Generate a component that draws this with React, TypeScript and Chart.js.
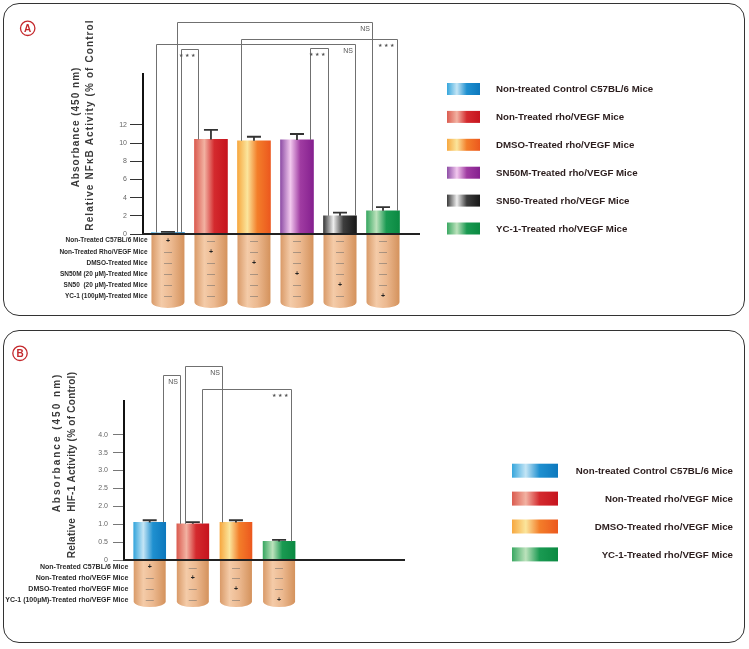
import React, { useEffect, useRef } from 'react';
import { Chart, registerables } from 'chart.js';

Chart.register(...registerables);

const FONT = "'Liberation Sans', Arial, Helvetica, sans-serif";

// ---------------- Panel A data ----------------
const groupsA = [
  'Non-treated Control C57BL/6 Mice',
  'Non-Treated rho/VEGF Mice',
  'DMSO-Treated rho/VEGF Mice',
  'SN50M-Treated rho/VEGF Mice',
  'SN50-Treated rho/VEGF Mice',
  'YC-1-Treated rho/VEGF Mice',
];
const valuesA = [0.15, 10.4, 10.25, 10.35, 2.0, 2.55];
const errorsA = [0.08, 1.05, 0.45, 0.65, 0.35, 0.4];
const yTicksA = [0, 2, 4, 6, 8, 10, 12];
const yTickLabelsA = ['0', '2', '4', '6', '8', '10', '12'];
const rowLabelsA = [
  'Non-Treated C57BL/6 Mice',
  'Non-Treated Rho/VEGF Mice',
  'DMSO-Treated Mice',
  'SN50M (20 µM)-Treated Mice',
  'SN50  (20 µM)-Treated Mice',
  'YC-1 (100µM)-Treated Mice',
];
const signsA = [
  ['+', '—', '—', '—', '—', '—'],
  ['—', '+', '—', '—', '—', '—'],
  ['—', '—', '+', '—', '—', '—'],
  ['—', '—', '—', '+', '—', '—'],
  ['—', '—', '—', '—', '+', '—'],
  ['—', '—', '—', '—', '—', '+'],
];
const bracketsA = [
  { from: 0, fromOff: 0.28, to: 5, toOff: -0.32, level: 23.3, label: 'NS' },
  { from: 0, fromOff: -0.36, to: 4, toOff: 0.46, level: 20.9, label: 'NS' },
  { from: 2, fromOff: -0.39, to: 5, toOff: 0.43, level: 21.4, label: '★★★' },
  { from: 0, fromOff: 0.4, to: 1, toOff: -0.38, level: 20.4, label: '★★★' },
  { from: 3, fromOff: 0.39, to: 4, toOff: -0.36, level: 20.45, label: '★★★' },
];
const titlesA = ['Absorbance (450 nm)', 'Relative NFκB Activity (% of Control'];

// ---------------- Panel B data ----------------
const groupsB = [
  'Non-treated Control C57BL/6 Mice',
  'Non-Treated rho/VEGF Mice',
  'DMSO-Treated rho/VEGF Mice',
  'YC-1-Treated rho/VEGF Mice',
];
const valuesB = [1.05, 1.01, 1.05, 0.52];
const errorsB = [0.06, 0.05, 0.06, 0.04];
const yTicksB = [0, 0.5, 1, 1.5, 2, 2.5, 3, 3.5];
const yTickLabelsB = ['0', '0.5', '1.0', '2.0', '2.5', '3.0', '3.5', '4.0'];
const rowLabelsB = [
  'Non-Treated C57BL/6 Mice',
  'Non-Treated rho/VEGF Mice',
  'DMSO-Treated rho/VEGF Mice',
  'YC-1 (100µM)-Treated rho/VEGF Mice',
];
const signsB = [
  ['+', '—', '—', '—'],
  ['—', '+', '—', '—'],
  ['—', '—', '+', '—'],
  ['—', '—', '—', '+'],
];
const bracketsB = [
  { from: 0, fromOff: 0.4, to: 1, toOff: -0.4, level: 5.18, label: 'NS' },
  { from: 1, fromOff: -0.24, to: 2, toOff: -0.43, level: 5.41, label: 'NS' },
  { from: 1, fromOff: 0.3, to: 3, toOff: 0.375, level: 4.78, label: '★★★' },
];
const titlesB = ['Absorbance (450 nm)', 'Relative  HIF-1 Activity (% of Control)'];

// ---------------- styles ----------------
const BLUE = ['#36a6dc', '#c4e5f5', '#1f90d0', '#0d78bd'];
const RED = ['#db5c50', '#f2b2a2', '#d42a2e', '#c6141e'];
const ORANGE = ['#f7a840', '#fbe59c', '#f37e2a', '#ec581e'];
const PURPLE = ['#8e4ea6', '#f2c8ee', '#a03ca2', '#85208f'];
const BLACK = ['#3a3a3a', '#eeeeee', '#3e3e3e', '#181818'];
const GREEN = ['#3aa862', '#bce2bc', '#1a9a52', '#0b8a42'];
const TUBE = ['#d99a68', '#f4cba8', '#ecb990', '#d4925c'];

const lookA = {
  top: 0, height: 322,
  padding: { left: 103, top: 74, right: 329, bottom: 88 },
  xMin: -0.58, xMax: 5.86, yMax: 17.6,
  barW: 33, tickLength: 13, tickPadding: 3, tickColor: '#333', tickFont: 7,
  rowFont: 6.5, rowX: 4.5, rowFirst: 6.7, rowStep: 11.1,
  tubeDepth: 74, tubeCurve: 6,
  titles: [[76.3, 127, 1.0], [90, 125, 1.1]],
  letter: [27.7, 28.3],
  legend: { swatchX: 447, swatchW: 33, swatchH: 12, textX: 496, align: 'left', y0: 89, step: 27.9 },
};
const lookB = {
  top: 323, height: 326,
  padding: { left: 84, top: 78, right: 344, bottom: 89 },
  xMin: -0.596, xMax: 5.92, yMax: 4.44,
  barW: 32, tickLength: 11, tickPadding: 5, tickColor: '#777', tickFont: 7,
  rowFont: 7, rowX: 4.3, rowFirst: 7.3, rowStep: 10.9,
  tubeDepth: 47, tubeCurve: 5.5,
  titles: [[57, 119.5, 2.0], [72.5, 142, 0.25]],
  letter: [20, 30.3],
  legend: { swatchX: 512, swatchW: 46, swatchH: 14, textX: 733, align: 'right', y0: 147.7, step: 27.9 },
};

const panelA = {
  groups: groupsA, values: valuesA, errors: errorsA, yTicks: yTicksA, yTickLabels: yTickLabelsA,
  rowLabels: rowLabelsA, signs: signsA, brackets: bracketsA, titles: titlesA, letter: 'A',
  gradients: [BLUE, RED, ORANGE, PURPLE, BLACK, GREEN], look: lookA,
};
const panelB = {
  groups: groupsB, values: valuesB, errors: errorsB, yTicks: yTicksB, yTickLabels: yTickLabelsB,
  rowLabels: rowLabelsB, signs: signsB, brackets: bracketsB, titles: titlesB, letter: 'B',
  gradients: [BLUE, RED, ORANGE, GREEN], look: lookB,
};

function hGrad(ctx: CanvasRenderingContext2D, x0: number, x1: number, s: string[]) {
  const g = ctx.createLinearGradient(x0, 0, x1, 0);
  g.addColorStop(0, s[0]);
  g.addColorStop(0.3, s[1]);
  g.addColorStop(0.6, s[2]);
  g.addColorStop(1, s[3]);
  return g;
}

function makePlugin(p: any) {
  return {
    id: 'decor' + p.letter,
    afterDraw(chart: any) {
      const ctx: CanvasRenderingContext2D = chart.ctx;
      const xs = chart.scales.x;
      const ys = chart.scales.y;
      const ca = chart.chartArea;
      const L = p.look;
      const bw = L.barW;
      const base = ys.getPixelForValue(0);
      ctx.save();

      // tubes
      p.values.forEach((_: number, i: number) => {
        const cx = xs.getPixelForValue(i);
        const l = cx - bw / 2;
        const r = cx + bw / 2;
        const bot = base + L.tubeDepth - L.tubeCurve;
        const g = ctx.createLinearGradient(l, 0, r, 0);
        g.addColorStop(0, TUBE[0]);
        g.addColorStop(0.3, TUBE[1]);
        g.addColorStop(0.6, TUBE[2]);
        g.addColorStop(1, TUBE[3]);
        ctx.beginPath();
        ctx.moveTo(l, base);
        ctx.lineTo(r, base);
        ctx.lineTo(r, bot);
        ctx.ellipse(cx, bot, bw / 2, L.tubeCurve, 0, 0, Math.PI);
        ctx.closePath();
        ctx.fillStyle = g;
        ctx.fill();
      });

      // signs
      ctx.textAlign = 'center';
      ctx.textBaseline = 'middle';
      p.signs.forEach((row: string[], r: number) => {
        row.forEach((s: string, c: number) => {
          const cx = xs.getPixelForValue(c);
          const y = base + L.rowFirst + r * L.rowStep;
          if (s === '+') {
            ctx.font = `bold 7px ${FONT}`;
            ctx.fillStyle = '#222';
          } else {
            ctx.font = `8px ${FONT}`;
            ctx.fillStyle = '#666';
          }
          ctx.fillText(s, cx, y);
        });
      });

      // row labels
      ctx.textAlign = 'right';
      ctx.fillStyle = '#2a2a2a';
      ctx.font = `bold ${L.rowFont}px ${FONT}`;
      p.rowLabels.forEach((t: string, r: number) => {
        ctx.fillText(t, ca.left + L.rowX, base + L.rowFirst + r * L.rowStep);
      });

      // baseline
      ctx.strokeStyle = '#222';
      ctx.lineWidth = 2;
      ctx.beginPath();
      ctx.moveTo(ca.left - 1, base);
      ctx.lineTo(ca.right, base);
      ctx.stroke();

      // error bars
      ctx.strokeStyle = '#333';
      ctx.lineWidth = 1.8;
      p.values.forEach((v: number, i: number) => {
        const cx = xs.getPixelForValue(i);
        const y0 = ys.getPixelForValue(v);
        const y1 = ys.getPixelForValue(v + p.errors[i]);
        ctx.beginPath();
        ctx.moveTo(cx, y0);
        ctx.lineTo(cx, y1);
        ctx.moveTo(cx - 7, y1);
        ctx.lineTo(cx + 7, y1);
        ctx.stroke();
      });

      // significance brackets
      ctx.lineWidth = 1;
      ctx.strokeStyle = '#707070';
      p.brackets.forEach((b: any) => {
        const x1 = Math.round(xs.getPixelForValue(b.from) + b.fromOff * bw) + 0.5;
        const x2 = Math.round(xs.getPixelForValue(b.to) + b.toOff * bw) + 0.5;
        const yt = Math.round(ys.getPixelForValue(b.level)) + 0.5;
        const y1 = ys.getPixelForValue(p.values[b.from]);
        const y2 = ys.getPixelForValue(p.values[b.to]);
        ctx.beginPath();
        ctx.moveTo(x1, y1);
        ctx.lineTo(x1, yt);
        ctx.lineTo(x2, yt);
        ctx.lineTo(x2, y2);
        ctx.stroke();
        ctx.textAlign = 'right';
        ctx.textBaseline = 'top';
        ctx.fillStyle = '#555';
        if (b.label === 'NS') {
          ctx.font = `7px ${FONT}`;
          (ctx as any).letterSpacing = '0px';
          ctx.fillText(b.label, x2 - 2.5, yt + 3);
        } else {
          ctx.font = `5px 'DejaVu Sans', sans-serif`;
          (ctx as any).letterSpacing = '1.5px';
          ctx.fillText(b.label, x2 - 1.5, yt + 3.5);
          (ctx as any).letterSpacing = '0px';
        }
      });

      // legend
      const lg = L.legend;
      ctx.textBaseline = 'middle';
      ctx.font = `bold 9.7px ${FONT}`;
      p.groups.forEach((g: string, i: number) => {
        const cy = lg.y0 + i * lg.step;
        ctx.fillStyle = hGrad(ctx, lg.swatchX, lg.swatchX + lg.swatchW, p.gradients[i]);
        ctx.fillRect(lg.swatchX, cy - lg.swatchH / 2, lg.swatchW, lg.swatchH);
        ctx.fillStyle = '#2b1d1d';
        ctx.textAlign = lg.align;
        ctx.fillText(g, lg.textX, cy + 0.5);
      });

      // y titles
      ctx.fillStyle = '#3a3a3a';
      ctx.font = `bold 10px ${FONT}`;
      ctx.textAlign = 'center';
      ctx.textBaseline = 'middle';
      p.titles.forEach((t: string, i: number) => {
        const [x, y, sp] = L.titles[i];
        ctx.save();
        ctx.translate(x, y);
        ctx.rotate(-Math.PI / 2);
        (ctx as any).letterSpacing = sp + 'px';
        ctx.fillText(t, 0, 0);
        ctx.restore();
      });

      // panel letter
      const [lx, ly] = L.letter;
      ctx.strokeStyle = '#c4282c';
      ctx.lineWidth = 1.3;
      ctx.beginPath();
      ctx.arc(lx, ly, 7.2, 0, Math.PI * 2);
      ctx.stroke();
      ctx.fillStyle = '#c4282c';
      ctx.font = `bold 10px ${FONT}`;
      ctx.textAlign = 'center';
      ctx.textBaseline = 'middle';
      ctx.fillText(p.letter, lx, ly + 0.5);

      ctx.restore();
    },
  };
}

function makeConfig(p: any): any {
  const L = p.look;
  return {
    type: 'bar',
    data: {
      datasets: [
        {
          data: p.values.map((v: number, i: number) => ({ x: i, y: v })),
          barThickness: L.barW,
          borderWidth: 0,
          backgroundColor: (c: any) => {
            const chart = c.chart;
            const i = c.dataIndex;
            if (i == null || !chart.chartArea || !chart.scales.x) return '#888';
            const cx = chart.scales.x.getPixelForValue(i);
            return hGrad(chart.ctx, cx - L.barW / 2, cx + L.barW / 2, p.gradients[i]);
          },
        },
      ],
    },
    options: {
      animation: false,
      responsive: false,
      devicePixelRatio: 1,
      layout: { padding: L.padding },
      plugins: { legend: { display: false }, tooltip: { enabled: false } },
      scales: {
        x: {
          type: 'linear',
          min: L.xMin,
          max: L.xMax,
          offset: false,
          grid: { offset: false },
          display: false,
        },
        y: {
          min: 0,
          max: L.yMax,
          afterFit: (s: any) => {
            s.width = 40;
          },
          afterBuildTicks: (s: any) => {
            s.ticks = p.yTicks.map((v: number) => ({ value: v }));
          },
          ticks: {
            autoSkip: false,
            callback: (_v: any, i: number) => p.yTickLabels[i],
            font: { family: FONT, size: L.tickFont },
            color: '#666',
            padding: L.tickPadding,
          },
          grid: {
            drawOnChartArea: false,
            drawTicks: true,
            tickLength: L.tickLength,
            color: L.tickColor,
            lineWidth: 1,
          },
          border: { display: true, color: '#111', width: 2 },
        },
      },
    },
    plugins: [makePlugin(p)],
  };
}

function PanelChart({ panel }: { panel: any }) {
  const ref = useRef<HTMLCanvasElement>(null);
  useEffect(() => {
    if (!ref.current) return;
    const chart = new Chart(ref.current, makeConfig(panel));
    return () => chart.destroy();
  }, [panel]);
  const L = panel.look;
  return (
    <canvas
      ref={ref}
      width={749}
      height={L.height}
      style={{ position: 'absolute', left: 0, top: L.top, width: 749, height: L.height }}
    />
  );
}

export default function App() {
  useEffect(() => {
    document.body.style.margin = '0';
    document.body.style.background = '#ffffff';
  }, []);
  const border: React.CSSProperties = {
    position: 'absolute',
    left: 3,
    width: 742,
    height: 313,
    border: '1.5px solid #333',
    borderRadius: 16,
    boxSizing: 'border-box',
  };
  return (
    <div style={{ position: 'relative', width: 749, height: 649, background: '#fff', overflow: 'hidden' }}>
      <div style={{ ...border, top: 3 }} />
      <div style={{ ...border, top: 330 }} />
      <PanelChart panel={panelA} />
      <PanelChart panel={panelB} />
    </div>
  );
}
